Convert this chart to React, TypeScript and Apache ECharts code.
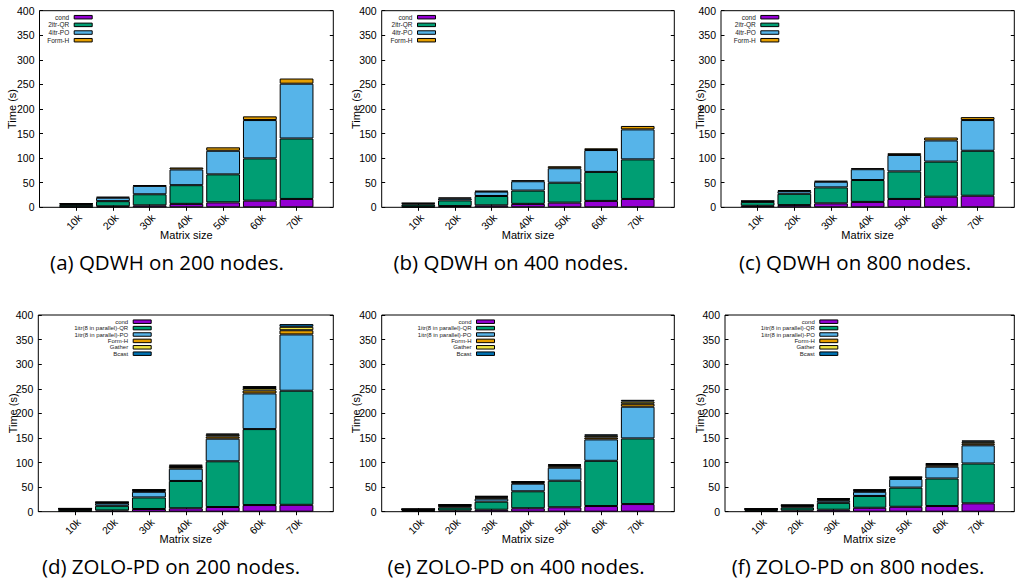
import React, { useEffect, useRef } from "react";
import * as echarts from "echarts";

// ---------- data ----------
const sizes = ["10k", "20k", "30k", "40k", "50k", "60k", "70k"];

const qdwhNames = ["cond", "2itr-QR", "4itr-PO", "Form-H"];
const zoloNames = ["cond", "1itr(8 in parallel)-QR", "1itr(8 in parallel)-PO", "Form-H", "Gather", "Bcast"];

// QDWH 200 nodes
const qdwh200Cond = [1, 2, 4, 7, 10, 13.5, 17];
const qdwh200QR = [4, 10.5, 22.5, 38, 57, 86, 123];
const qdwh200PO = [2, 7, 17, 32, 48, 78, 111.5];
const qdwh200H = [1, 2, 1.5, 4, 7, 7.5, 10.5];

// QDWH 400 nodes
const qdwh400Cond = [1, 2.5, 4, 7, 9.5, 13, 17];
const qdwh400QR = [4.5, 11.5, 19, 27, 40.5, 59, 80.5];
const qdwh400PO = [2.5, 4, 9, 19, 29.5, 44.5, 61];
const qdwh400H = [0.8, 2, 1.5, 2, 4, 3.5, 7];

// QDWH 800 nodes
const qdwh800Cond = [3, 4.5, 8, 11, 17, 21.5, 23.5];
const qdwh800QR = [8, 23, 32.5, 44.5, 56, 71.5, 91.5];
const qdwh800PO = [1.5, 5.5, 11.5, 22, 33.5, 43, 62.5];
const qdwh800H = [1, 2, 2, 2, 3.5, 6, 6];

// ZOLO-PD 200 nodes
const zolo200Cond = [1, 2.5, 5.5, 7, 9.5, 13.5, 14];
const zolo200QR = [3, 9.5, 23.5, 55.5, 93, 154.5, 232];
const zolo200PO = [1.5, 5, 11.5, 25, 46, 72.5, 114.5];
const zolo200H = [0.5, 1.2, 2, 3.5, 4.5, 6, 8.5];
const zolo200G = [0.5, 1, 1.6, 2.5, 3.5, 5, 7];
const zolo200B = [0.3, 1, 1.3, 2, 2.5, 4, 5.5];

// ZOLO-PD 400 nodes
const zolo400Cond = [1, 2.5, 4, 7, 9, 11.5, 15.5];
const zolo400QR = [2.5, 6, 16.5, 34.5, 54, 92, 133.5];
const zolo400PO = [1, 2.5, 6, 15.5, 26.5, 43.5, 64.5];
const zolo400H = [0.4, 1.5, 2.2, 2, 3, 4, 6];
const zolo400G = [0.3, 1.2, 1.8, 1.5, 2.3, 3.5, 4.5];
const zolo400B = [0.2, 1.2, 1.5, 1.3, 1.8, 2.8, 3.5];

// ZOLO-PD 800 nodes
const zolo800Cond = [1, 2.5, 4, 8, 10, 11.5, 17];
const zolo800QR = [3, 6, 14, 24, 39, 56, 81];
const zolo800PO = [1, 2.5, 4.5, 8.5, 17.5, 24, 37];
const zolo800H = [0.5, 1.2, 2, 2, 2, 3, 4];
const zolo800G = [0.3, 1, 1.5, 1.5, 1.5, 2.5, 3.5];
const zolo800B = [0.2, 1, 1.2, 1.3, 1, 2, 2.5];

const captions = [
  "(a) QDWH on 200 nodes.",
  "(b) QDWH on 400 nodes.",
  "(c) QDWH on 800 nodes.",
  "(d) ZOLO-PD on 200 nodes.",
  "(e) ZOLO-PD on 400 nodes.",
  "(f) ZOLO-PD on 800 nodes.",
];

const panelSeries = [
  [qdwh200Cond, qdwh200QR, qdwh200PO, qdwh200H],
  [qdwh400Cond, qdwh400QR, qdwh400PO, qdwh400H],
  [qdwh800Cond, qdwh800QR, qdwh800PO, qdwh800H],
  [zolo200Cond, zolo200QR, zolo200PO, zolo200H, zolo200G, zolo200B],
  [zolo400Cond, zolo400QR, zolo400PO, zolo400H, zolo400G, zolo400B],
  [zolo800Cond, zolo800QR, zolo800PO, zolo800H, zolo800G, zolo800B],
];

// ---------- styling / layout ----------
const colors = ["#9400d3", "#009e73", "#56b4e9", "#e69f00", "#f0e442", "#0072b2"];
const FONT = "Liberation Sans";
const CAPTION_FONT = '20.5px "Open Sans"';

const layouts = [
  { left: 39.5, top: 10.7, width: 293.8, height: 196.6, nameGap: 22, legendRight: 92.7, legendTop: 13.7, capX: 167, capY: 262 },
  { left: 381.7, top: 10.7, width: 292.6, height: 196.6, nameGap: 20, legendRight: 436, legendTop: 13.7, capX: 511, capY: 262 },
  { left: 721, top: 10.7, width: 293.3, height: 196.6, nameGap: 16, legendRight: 779.3, legendTop: 13.7, capX: 855, capY: 262 },
  { left: 38.3, top: 315, width: 295, height: 196.7, nameGap: 20, legendRight: 151.7, legendTop: 318.7, capX: 171, capY: 566 },
  { left: 381.7, top: 315, width: 292.6, height: 196.7, nameGap: 20, legendRight: 495, legendTop: 318.7, capX: 516, capY: 566 },
  { left: 725, top: 315, width: 289.3, height: 196.7, nameGap: 20, legendRight: 838.3, legendTop: 318.7, capX: 858, capY: 566 },
];

function buildOption() {
  const cats = ["", ...sizes, ""];
  const grid: any[] = [];
  const xAxis: any[] = [];
  const yAxis: any[] = [];
  const series: any[] = [];
  const legend: any[] = [];
  const graphic: any[] = [];

  const tickStyle = { color: "#000", width: 1 };

  layouts.forEach((L, p) => {
    const names = p < 3 ? qdwhNames : zoloNames;
    grid.push({
      left: L.left,
      top: L.top,
      width: L.width,
      height: L.height,
      show: true,
      borderColor: "#000",
      borderWidth: 1,
      backgroundColor: "transparent",
      containLabel: false,
    });
    xAxis.push({
      type: "category",
      gridIndex: p,
      data: cats,
      boundaryGap: false,
      position: "bottom",
      axisLine: { show: false },
      axisTick: {
        show: true,
        inside: true,
        length: 3.5,
        interval: (i: number) => i > 0 && i < cats.length - 1,
        lineStyle: tickStyle,
      },
      axisLabel: {
        interval: 0,
        rotate: 45,
        margin: 5,
        verticalAlign: "top",
        fontSize: 10.5,
        color: "#000",
        fontFamily: FONT,
      },
      splitLine: { show: false },
      name: "Matrix size",
      nameLocation: "middle",
      nameGap: 22,
      nameMoveOverlap: false,
      nameTextStyle: { fontSize: 11, color: "#000", fontFamily: FONT },
    });
    xAxis.push({
      type: "category",
      gridIndex: p,
      data: cats,
      boundaryGap: false,
      position: "top",
      axisLine: { show: false },
      axisTick: {
        show: true,
        inside: true,
        length: 3.5,
        interval: (i: number) => i > 0 && i < cats.length - 1,
        lineStyle: tickStyle,
      },
      axisLabel: { show: false },
      splitLine: { show: false },
    });
    yAxis.push({
      type: "value",
      gridIndex: p,
      min: 0,
      max: 400,
      interval: 50,
      position: "left",
      axisLine: { show: false },
      axisTick: { show: true, inside: true, length: 3.5, lineStyle: tickStyle },
      axisLabel: { margin: 5, fontSize: 10.5, color: "#000", fontFamily: FONT },
      splitLine: { show: false },
      name: "Time (s)",
      nameLocation: "middle",
      nameGap: L.nameGap,
      nameMoveOverlap: false,
      nameTextStyle: { fontSize: 11, color: "#000", fontFamily: FONT },
    });
    yAxis.push({
      type: "value",
      gridIndex: p,
      min: 0,
      max: 400,
      interval: 50,
      position: "right",
      axisLine: { show: false },
      axisTick: { show: true, inside: true, length: 3.5, lineStyle: tickStyle },
      axisLabel: { show: false },
      splitLine: { show: false },
    });
    panelSeries[p].forEach((vals, k) => {
      series.push({
        type: "bar",
        name: names[k],
        stack: "panel" + p,
        xAxisIndex: 2 * p,
        yAxisIndex: 2 * p,
        barWidth: "92%",
        itemStyle: { color: colors[k], borderColor: "#000", borderWidth: 1 },
        emphasis: { disabled: true },
        data: [null, ...vals, null],
      });
    });
    legend.push({
      orient: "vertical",
      align: "right",
      right: 1021 - L.legendRight,
      top: L.legendTop,
      padding: 0,
      itemWidth: 18,
      itemHeight: 3.5,
      itemGap: p < 3 ? 0.67 : 0.4,
      icon: "rect",
      selectedMode: false,
      itemStyle: { borderColor: "#000", borderWidth: 1 },
      textStyle: {
        fontSize: p < 3 ? 6.5 : 6,
        lineHeight: 6,
        color: "#222",
        fontFamily: FONT,
        padding: [0, 0, 0, 0],
      },
      data: names,
    });
    graphic.push({
      type: "text",
      x: L.capX,
      y: L.capY,
      style: {
        text: captions[p],
        fill: "#000",
        font: CAPTION_FONT,
        align: "center",
        verticalAlign: "middle",
      },
    });
  });

  return {
    animation: false,
    backgroundColor: "#fff",
    grid,
    xAxis,
    yAxis,
    series,
    legend,
    graphic,
  };
}

export default function App() {
  const ref = useRef<HTMLDivElement>(null);
  useEffect(() => {
    if (!ref.current) return;
    const chart = echarts.init(ref.current, undefined, { renderer: "svg" });
    chart.setOption(buildOption() as any);
    return () => chart.dispose();
  }, []);
  return (
    <div
      ref={ref}
      style={{ position: "fixed", left: 0, top: 0, width: 1021, height: 580, background: "#fff" }}
    />
  );
}
